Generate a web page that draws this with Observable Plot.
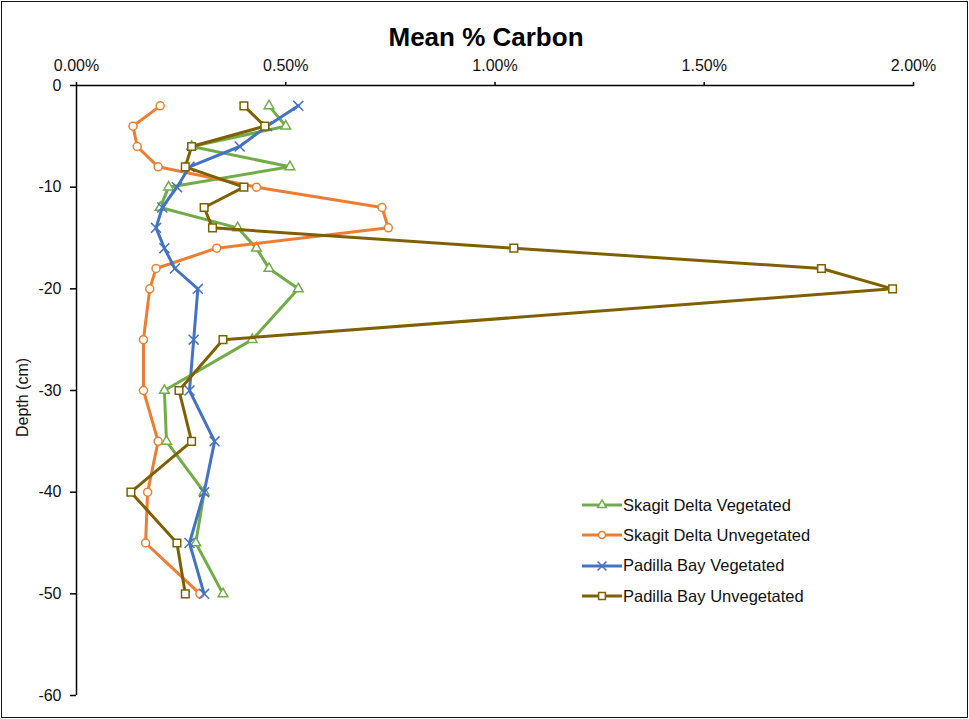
<!DOCTYPE html>
<html>
<head>
<meta charset="utf-8">
<script src="https://cdn.jsdelivr.net/npm/d3@7"></script>
<script src="https://cdn.jsdelivr.net/npm/@observablehq/plot@0.6"></script>
<style>
  html, body { margin: 0; padding: 0; background: #fff; }
  #wrap { position: relative; width: 969px; height: 719px; overflow: hidden; font-family: "Liberation Sans", Arial, Helvetica, sans-serif; }
  #wrap svg.plot { position: absolute; left: 0; top: 0; }
  #border { position: absolute; left: 1px; top: 1px; width: 967px; height: 717px; box-sizing: border-box; border: 1px solid #111; pointer-events: none; }
  #legend { position: absolute; left: 581px; top: 490px; }
  .row { display: flex; align-items: center; height: 30.3px; }
  .row svg { width: 42px; height: 14px; margin-right: 0px; }
  .row span { font-size: 16.5px; color: #111; white-space: nowrap; }
</style>
</head>
<body>
<div id="wrap"><div id="border"></div><div id="legend"></div></div>
<script>
// ---- data ----
const depths = [-2, -4, -6, -8, -10, -12, -14, -16, -18, -20, -25, -30, -35, -40, -45, -50];
const seriesNames = ["Skagit Delta Vegetated", "Skagit Delta Unvegetated", "Padilla Bay Vegetated", "Padilla Bay Unvegetated"];
const skagitVegetated   = [0.46, 0.50, 0.275, 0.51, 0.22, 0.20, 0.385, 0.43, 0.46, 0.53, 0.42, 0.21, 0.215, 0.305, 0.285, 0.35];
const skagitUnvegetated = [0.20, 0.135, 0.145, 0.195, 0.43, 0.73, 0.745, 0.335, 0.19, 0.175, 0.16, 0.16, 0.195, 0.17, 0.165, 0.295];
const padillaVegetated  = [0.53, 0.455, 0.39, 0.27, 0.24, 0.205, 0.19, 0.21, 0.235, 0.29, 0.28, 0.27, 0.33, 0.305, 0.27, 0.305];
const padillaUnvegetated= [0.40, 0.45, 0.275, 0.26, 0.40, 0.305, 0.325, 1.045, 1.78, 1.95, 0.35, 0.245, 0.275, 0.13, 0.24, 0.26];
const xTicks = [0, 0.5, 1, 1.5, 2];
const yTicks = [0, -10, -20, -30, -40, -50, -60];
const titleText = "Mean % Carbon";
const yLabelText = "Depth (cm)";

// ---- styles ----
const seriesValues = [skagitVegetated, skagitUnvegetated, padillaVegetated, padillaUnvegetated];
const colors = ["#70AD47", "#ED7D31", "#4472C4", "#7F6000"];
const symbols = ["triangle", "circle", "times", "square"];
const radii = [3.6, 4, 4.6, 4.3];

const data = seriesNames.flatMap((name, i) =>
  depths.map((d, j) => ({series: name, depth: d, carbon: seriesValues[i][j]})));

const FONT = "'Liberation Sans', Arial, Helvetica, sans-serif";

const seriesMarks = seriesNames.flatMap((name, i) => {
  const rows = data.filter(d => d.series === name);
  return [
    Plot.line(rows, {x: "carbon", y: "depth", stroke: colors[i], strokeWidth: 3, strokeLinejoin: "round", strokeLinecap: "round"}),
    Plot.dot(rows, {x: "carbon", y: "depth", symbol: () => symbols[i], stroke: colors[i], strokeWidth: 1.5,
      fill: symbols[i] === "times" ? "none" : "white", r: radii[i]})
  ];
});

const chart = Plot.plot({
  width: 969,
  height: 719,
  marginLeft: 76,
  marginRight: 56,
  marginTop: 85,
  marginBottom: 24,
  style: {fontFamily: FONT, fontSize: "16px", color: "#111", background: "transparent"},
  x: {domain: [0, 2]},
  y: {domain: [-60, 0]},
  symbol: {type: "identity"},
  marks: [
    ...seriesMarks,
    Plot.ruleY([0], {stroke: "#000", strokeWidth: 1.5}),
    Plot.ruleX([0], {stroke: "#000", strokeWidth: 1.5}),
    Plot.axisX({anchor: "top", ticks: xTicks, tickFormat: d => d.toFixed(2) + "%", tickSize: 4, tickPadding: 11, label: null, fontSize: 16, stroke: "#000", strokeWidth: 1.5}),
    Plot.axisY({anchor: "left", ticks: yTicks, tickFormat: d => String(d), tickSize: 6, tickPadding: 9, label: null, fontSize: 16, stroke: "#000", strokeWidth: 1.5}),
    Plot.text([titleText], {frameAnchor: "top", dx: -9, dy: -58, fontSize: 26, fontWeight: "bold", fill: "#000"}),
    Plot.text([yLabelText], {frameAnchor: "left", textAnchor: "middle", rotate: -90, dx: -54, dy: 7, fontSize: 16, fill: "#111"})
  ]
});
chart.classList.add("plot");
document.getElementById("wrap").prepend(chart);

// ---- legend ----
const legend = d3.select("#legend");
seriesNames.forEach((name, i) => {
  const row = legend.append("div").attr("class", "row");
  const s = row.append("svg").attr("viewBox", "0 0 42 14");
  s.append("line").attr("x1", 1).attr("x2", 41).attr("y1", 7).attr("y2", 7)
    .attr("stroke", colors[i]).attr("stroke-width", 3);
  const sym = {triangle: d3.symbolTriangle, circle: d3.symbolCircle, times: d3.symbolTimes, square: d3.symbolSquare}[symbols[i]];
  s.append("path").attr("transform", "translate(21,7)")
    .attr("d", d3.symbol(sym, Math.PI * radii[i] * radii[i] * 0.8)())
    .attr("fill", symbols[i] === "times" ? "none" : "white")
    .attr("stroke", colors[i]).attr("stroke-width", 1.5);
  row.append("span").text(name);
});
</script>
</body>
</html>
